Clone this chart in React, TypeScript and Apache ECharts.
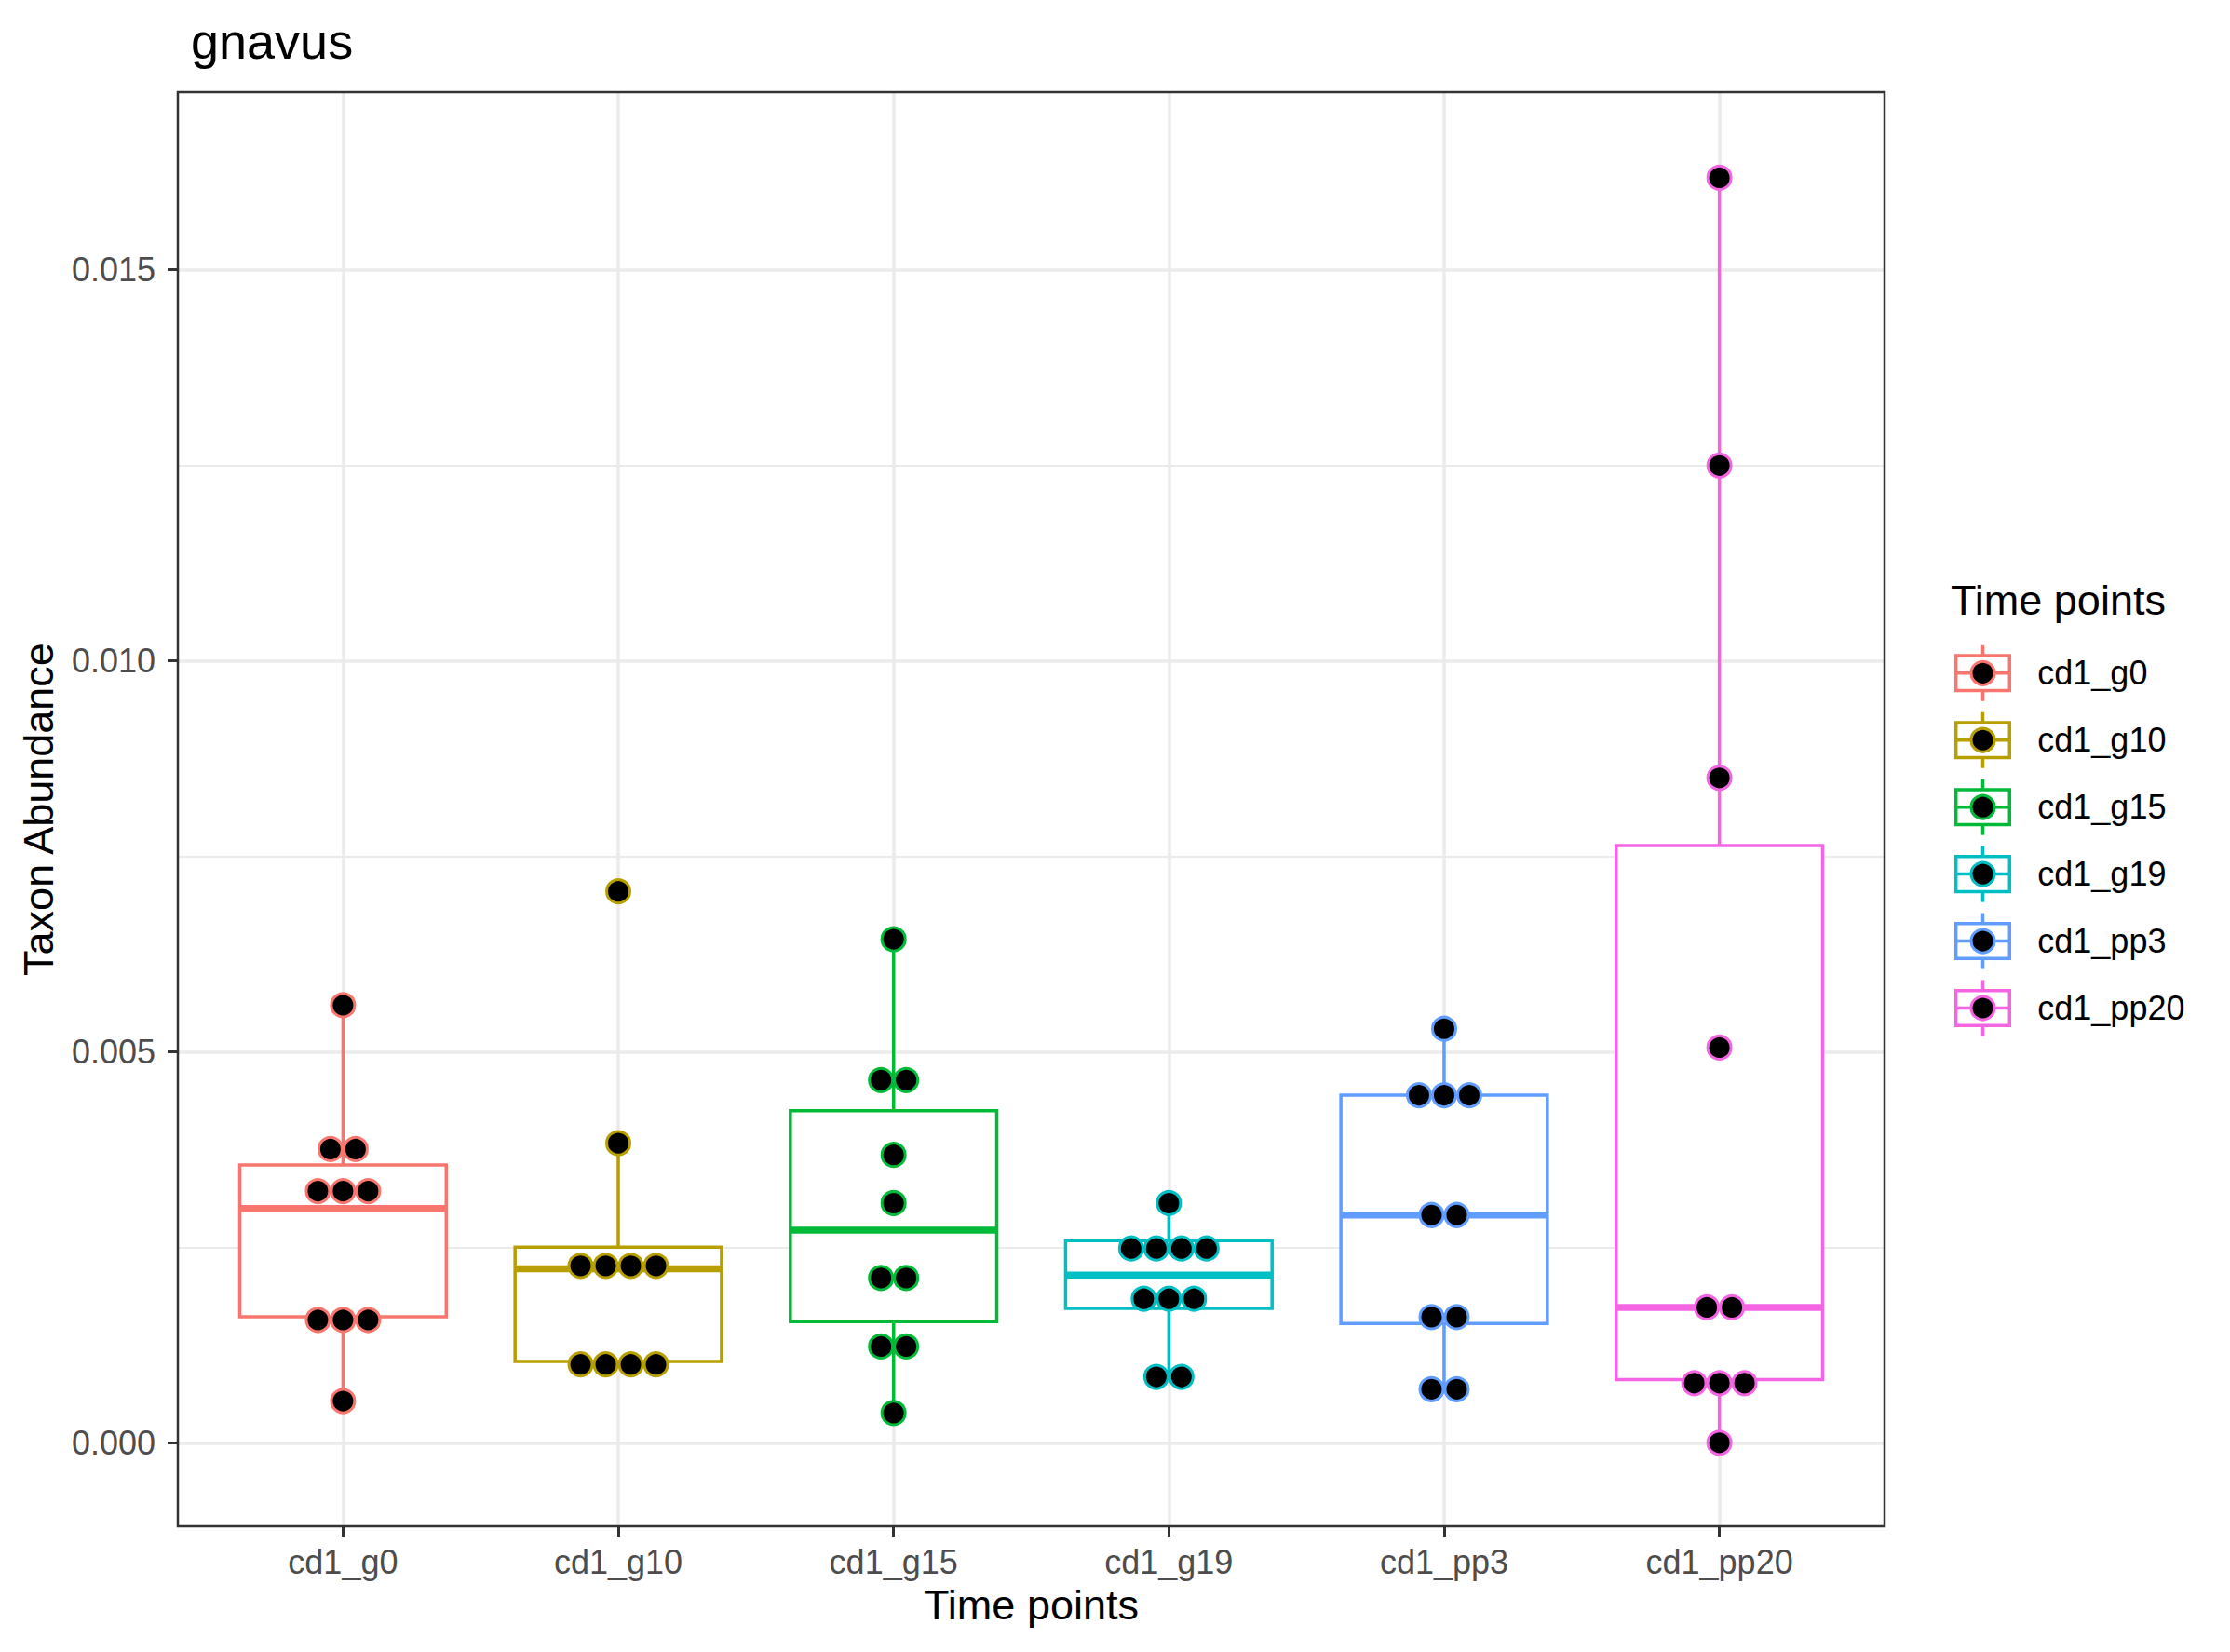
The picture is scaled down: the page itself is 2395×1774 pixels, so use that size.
import React, { useEffect, useRef } from "react";
import * as echarts from "echarts";

// ---------------- data ----------------
const categories = ["cd1_g0", "cd1_g10", "cd1_g15", "cd1_g19", "cd1_pp3", "cd1_pp20"];
const colors = ["#F8766D", "#B79F00", "#00BA38", "#00BFC4", "#619CFF", "#F564E3"];

// box statistics
const boxMin = [0.000533, 0.001001, 0.000379, 0.000842, 0.000684, 0.0];
const boxQ1 = [0.001612, 0.001038, 0.001548, 0.001718, 0.001524, 0.000808];
const boxMedian = [0.002994, 0.002224, 0.002718, 0.002143, 0.002911, 0.00173];
const boxQ3 = [0.003552, 0.0025, 0.004243, 0.002585, 0.004443, 0.007635];
const boxMax = [0.005593, 0.003829, 0.006437, 0.003063, 0.005292, 0.01617];

// dot plot values (binned positions)
const dotsG0 = [0.005593, 0.003754, 0.003754, 0.003217, 0.003217, 0.003217, 0.001569, 0.001569, 0.001569, 0.000533];
const dotsG10 = [0.007049, 0.003829, 0.002261, 0.002261, 0.002261, 0.002261, 0.001001, 0.001001, 0.001001, 0.001001];
const dotsG15 = [0.006437, 0.004636, 0.004636, 0.00368, 0.003063, 0.002106, 0.002106, 0.00123, 0.00123, 0.000379];
const dotsG19 = [0.003063, 0.002483, 0.002483, 0.002483, 0.002483, 0.00184, 0.00184, 0.00184, 0.000842, 0.000842];
const dotsPP3 = [0.005292, 0.004443, 0.004443, 0.004443, 0.002911, 0.002911, 0.001606, 0.001606, 0.000684, 0.000684];
const dotsPP20 = [0.01617, 0.012494, 0.0085, 0.005052, 0.00173, 0.00173, 0.000762, 0.000762, 0.000762, 0.0];
const dotValues = [dotsG0, dotsG10, dotsG15, dotsG19, dotsPP3, dotsPP20];

const yTickMin = 0;
const yTickMax = 0.015;
const yTickInterval = 0.005;

const titleText = "gnavus";
const xTitle = "Time points";
const yTitle = "Taxon Abundance";
const legendTitle = "Time points";

// ---------------- layout ----------------
const W = 2395;
const H = 1774;
const P_LEFT = 191;
const P_TOP = 99;
const P_RIGHT = 2024;
const P_BOTTOM = 1639;
const Y_MIN = -0.001068;
const Y_MAX = 0.017265;
const FONT = "'Liberation Sans', Arial, Helvetica, sans-serif";

const yPix = (v: number) => P_TOP + ((Y_MAX - v) / (Y_MAX - Y_MIN)) * (P_BOTTOM - P_TOP);
const step = (P_RIGHT - P_LEFT) / (categories.length - 1 + 1.2);
const innerLeft = P_LEFT + 0.6 * step;
const innerRight = P_RIGHT - 0.6 * step;

const DOT_R = 12.5;
const DOT_LW = 3;
const DOT_SPACING = 27;
const LINE_W = 3.5;
const MEDIAN_W = 7.5;

function buildDotItems() {
  const items: number[][] = [];
  dotValues.forEach((vals, i) => {
    const counts = new Map<number, number>();
    vals.forEach((v) => counts.set(v, (counts.get(v) || 0) + 1));
    counts.forEach((n, v) => items.push([i, v, n]));
  });
  return items;
}

function buildLegend() {
  const els: any[] = [];
  els.push({
    type: "text",
    x: 2095,
    y: 660 - 0.3465 * 45,
    style: {
      text: legendTitle,
      fontSize: 45,
      fontFamily: FONT,
      fill: "#000",
      align: "left",
      textAlign: "left",
      verticalAlign: "middle",
      textVerticalAlign: "middle",
    },
  });
  const kx = 2129.5;
  const kw = 57.6;
  const kh = 37.6;
  categories.forEach((c, k) => {
    const cy = 722.8 + k * 71.94;
    const col = colors[k];
    els.push({
      type: "line",
      shape: { x1: kx, y1: cy - 30, x2: kx, y2: cy + 30 },
      style: { stroke: col, lineWidth: LINE_W },
    });
    els.push({
      type: "rect",
      shape: { x: kx - kw / 2, y: cy - kh / 2, width: kw, height: kh },
      style: { fill: "#fff", stroke: col, lineWidth: LINE_W },
    });
    els.push({
      type: "line",
      shape: { x1: kx - kw / 2, y1: cy, x2: kx + kw / 2, y2: cy },
      style: { stroke: col, lineWidth: LINE_W },
    });
    els.push({
      type: "circle",
      shape: { cx: kx, cy, r: DOT_R },
      style: { fill: "#000", stroke: col, lineWidth: DOT_LW },
    });
    els.push({
      type: "text",
      x: 2188.3,
      y: cy,
      style: {
        text: c,
        fontSize: 36,
        fontFamily: FONT,
        fill: "#000",
        align: "left",
        textAlign: "left",
        verticalAlign: "middle",
        textVerticalAlign: "middle",
      },
    });
  });
  return els;
}

export default function App() {
  const ref = useRef<HTMLDivElement>(null);

  useEffect(() => {
    document.body.style.margin = "0";
    if (!ref.current) return;
    const chart = echarts.init(ref.current, undefined, { renderer: "svg" });

    const boxData = categories.map((_, i) => [i, boxMin[i], boxQ1[i], boxMedian[i], boxQ3[i], boxMax[i]]);

    const option: any = {
      animation: false,
      backgroundColor: "#ffffff",
      textStyle: { fontFamily: FONT },
      grid: [
        {
          left: P_LEFT,
          top: yPix(yTickMax),
          width: P_RIGHT - P_LEFT,
          height: yPix(yTickMin) - yPix(yTickMax),
          containLabel: false,
        },
        {
          left: innerLeft,
          top: P_TOP,
          width: innerRight - innerLeft,
          height: P_BOTTOM - P_TOP,
          containLabel: false,
        },
        {
          left: P_LEFT,
          top: P_TOP,
          width: P_RIGHT - P_LEFT,
          height: P_BOTTOM - P_TOP,
          containLabel: false,
        },
      ],
      xAxis: [
        { gridIndex: 0, type: "value", show: false, min: 0, max: 1 },
        {
          gridIndex: 1,
          type: "category",
          position: "bottom",
          data: categories,
          boundaryGap: false,
          axisLine: { show: false, onZero: false },
          axisTick: { show: true, length: 11, lineStyle: { color: "#333333", width: 3 } },
          axisLabel: { fontSize: 36, color: "#4D4D4D", margin: 20, fontFamily: FONT },
          splitLine: { show: true, lineStyle: { color: "#EBEBEB", width: 3.5 } },
          name: xTitle,
          nameLocation: "middle",
          nameGap: 62,
          nameTextStyle: { fontSize: 45, color: "#000", fontFamily: FONT },
        },
        { gridIndex: 2, type: "value", show: false, min: 0, max: 1 },
      ],
      yAxis: [
        {
          gridIndex: 0,
          type: "value",
          min: yTickMin,
          max: yTickMax,
          interval: yTickInterval,
          axisLine: { show: false, onZero: false },
          axisTick: { show: true, length: 11, lineStyle: { color: "#333333", width: 3 } },
          axisLabel: {
            fontSize: 36,
            color: "#4D4D4D",
            margin: 24,
            fontFamily: FONT,
            formatter: (v: number) => v.toFixed(3),
          },
          splitLine: { show: true, lineStyle: { color: "#EBEBEB", width: 3.5 } },
          minorTick: { show: false, splitNumber: 2 },
          minorSplitLine: { show: true, lineStyle: { color: "#EBEBEB", width: 1.8 } },
        },
        { gridIndex: 1, type: "value", min: Y_MIN, max: Y_MAX, show: false },
        {
          gridIndex: 2,
          type: "value",
          min: Y_MIN,
          max: Y_MAX,
          axisLine: { show: false, onZero: false },
          axisTick: { show: false },
          axisLabel: { show: false },
          splitLine: { show: false },
          name: yTitle,
          nameLocation: "middle",
          nameGap: 127,
          nameTextStyle: { fontSize: 45, color: "#000", fontFamily: FONT },
        },
      ],
      graphic: [
        {
          type: "text",
          x: 205,
          y: 63 - 0.3465 * 54,
          style: {
            text: titleText,
            fontSize: 54,
            fontFamily: FONT,
            fill: "#000",
            align: "left",
            textAlign: "left",
            verticalAlign: "middle",
            textVerticalAlign: "middle",
          },
        },
        {
          type: "rect",
          z: 100,
          shape: { x: P_LEFT, y: P_TOP, width: P_RIGHT - P_LEFT, height: P_BOTTOM - P_TOP },
          style: { fill: "none", stroke: "#333333", lineWidth: 2.5 },
        },
        ...buildLegend(),
      ],
      series: [
        {
          type: "custom",
          name: "box",
          xAxisIndex: 1,
          yAxisIndex: 1,
          clip: false,
          z: 2,
          data: boxData,
          encode: { x: 0, y: [1, 2, 3, 4, 5] },
          renderItem: (params: any, api: any) => {
            const i = params.dataIndex;
            const x = api.coord([i, 0])[0];
            const stepPx = api.coord([1, 0])[0] - api.coord([0, 0])[0];
            const half = stepPx * 0.375;
            const yy = (k: number) => api.coord([i, api.value(k)])[1];
            const yMin = yy(1), yQ1 = yy(2), yMed = yy(3), yQ3 = yy(4), yMax = yy(5);
            const col = colors[i];
            return {
              type: "group",
              children: [
                { type: "line", shape: { x1: x, y1: yMax, x2: x, y2: yQ3 }, style: { stroke: col, lineWidth: LINE_W } },
                { type: "line", shape: { x1: x, y1: yQ1, x2: x, y2: yMin }, style: { stroke: col, lineWidth: LINE_W } },
                {
                  type: "rect",
                  shape: { x: x - half, y: yQ3, width: 2 * half, height: yQ1 - yQ3 },
                  style: { fill: "#ffffff", stroke: col, lineWidth: LINE_W },
                },
                {
                  type: "line",
                  shape: { x1: x - half, y1: yMed, x2: x + half, y2: yMed },
                  style: { stroke: col, lineWidth: MEDIAN_W },
                },
              ],
            };
          },
        },
        {
          type: "custom",
          name: "dots",
          xAxisIndex: 1,
          yAxisIndex: 1,
          clip: false,
          z: 3,
          data: buildDotItems(),
          encode: { x: 0, y: 1 },
          renderItem: (params: any, api: any) => {
            const i = api.value(0);
            const n = api.value(2);
            const c = api.coord([i, api.value(1)]);
            const col = colors[i];
            const children: any[] = [];
            for (let k = 0; k < n; k++) {
              children.push({
                type: "circle",
                shape: { cx: c[0] + (k - (n - 1) / 2) * DOT_SPACING, cy: c[1], r: DOT_R },
                style: { fill: "#000", stroke: col, lineWidth: DOT_LW },
              });
            }
            return { type: "group", children };
          },
        },
      ],
    };

    chart.setOption(option);
    return () => chart.dispose();
  }, []);

  return <div ref={ref} style={{ width: W, height: H }} />;
}
